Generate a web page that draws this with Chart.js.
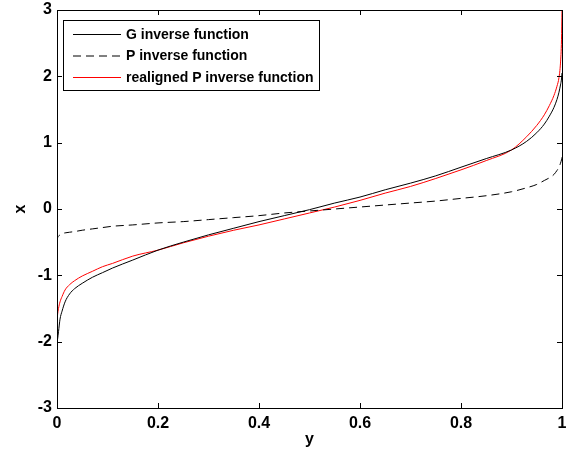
<!DOCTYPE html>
<html>
<head>
<meta charset="utf-8">
<script src="https://cdn.jsdelivr.net/npm/chart.js@4/dist/chart.umd.min.js"></script>
<style>
  body { margin: 0; background: #fff; }
  canvas { display: block; }
</style>
</head>
<body>
<canvas id="chart" width="566" height="453"></canvas>
<script>
// sample positions along y (horizontal axis)
const xs = [0, 0.001, 0.003, 0.006, 0.01, 0.016, 0.025, 0.035, 0.05, 0.07, 0.09, 0.11, 0.15, 0.2, 0.25, 0.3, 0.35, 0.4, 0.45, 0.5,
    0.55, 0.6, 0.65, 0.7, 0.75, 0.8, 0.85, 0.9, 0.93, 0.95, 0.965, 0.975, 0.984, 0.99, 0.994, 0.997, 0.999, 1];

// values
const gInverse = [-2.02, -1.97, -1.85, -1.66, -1.54, -1.40, -1.28, -1.20, -1.12, -1.03, -0.96, -0.89, -0.77, -0.62, -0.50, -0.39, -0.29, -0.19, -0.10, -0.01,
    0.09, 0.18, 0.29, 0.39, 0.50, 0.63, 0.76, 0.89, 1.02, 1.15, 1.28, 1.40, 1.53, 1.65, 1.76, 1.87, 1.96, 2.05];
const pInverse = [-0.50, -0.44, -0.41, -0.39, -0.37, -0.36, -0.35, -0.34, -0.32, -0.30, -0.28, -0.26, -0.24, -0.21, -0.19, -0.16, -0.13, -0.10, -0.06, -0.03,
    0.00, 0.03, 0.06, 0.09, 0.12, 0.16, 0.20, 0.26, 0.32, 0.37, 0.43, 0.47, 0.52, 0.58, 0.63, 0.69, 0.74, 0.78];
const realigned = [-1.68, -1.60, -1.50, -1.40, -1.32, -1.22, -1.14, -1.08, -1.01, -0.94, -0.87, -0.82, -0.71, -0.62, -0.51, -0.41, -0.32, -0.24, -0.15, -0.06,
    0.03, 0.13, 0.24, 0.34, 0.46, 0.59, 0.73, 0.89, 1.09, 1.26, 1.42, 1.56, 1.71, 1.85, 1.98, 2.20, 2.55, 3.0];

const seriesNames = ['G inverse function', 'P inverse function', 'realigned P inverse function'];
const xTicks = [0, 0.2, 0.4, 0.6, 0.8, 1];
const yTicks = [-3, -2, -1, 0, 1, 2, 3];

const FONT = "'Liberation Sans', Arial, Helvetica, sans-serif";

function toPoints(vals) {
    return xs.map((x, i) => ({ x: x, y: vals[i] }));
}

// frame + inward ticks on all four sides (matlab style box)
const boxPlugin = {
    id: 'box',
    afterDatasetsDraw(chart) {
        const { ctx, chartArea: a, scales } = chart;
        ctx.save();
        ctx.strokeStyle = '#000';
        ctx.lineWidth = 1;
        ctx.beginPath();
        xTicks.forEach(t => {
            const px = Math.round(scales.x.getPixelForValue(t)) + 0.5;
            ctx.moveTo(px, a.bottom); ctx.lineTo(px, a.bottom - 5);
            ctx.moveTo(px, a.top); ctx.lineTo(px, a.top + 5);
        });
        yTicks.forEach(t => {
            const py = Math.round(scales.y.getPixelForValue(t)) + 0.5;
            ctx.moveTo(a.left, py); ctx.lineTo(a.left + 5, py);
            ctx.moveTo(a.right, py); ctx.lineTo(a.right - 5, py);
        });
        ctx.stroke();
        ctx.strokeRect(Math.round(a.left) + 0.5, Math.round(a.top) + 0.5,
            Math.round(a.right - a.left), Math.round(a.bottom - a.top));
        ctx.restore();
    }
};

// legend box in the upper left corner
const legendPlugin = {
    id: 'boxLegend',
    afterDraw(chart) {
        const { ctx } = chart;
        const bx = 63.5, by = 20.5, bw = 256, bh = 70;
        ctx.save();
        ctx.fillStyle = '#fff';
        ctx.fillRect(bx, by, bw, bh);
        ctx.strokeStyle = '#000';
        ctx.lineWidth = 1;
        ctx.strokeRect(bx, by, bw, bh);
        ctx.font = 'bold 14px ' + FONT;
        ctx.textBaseline = 'middle';
        const rows = [34, 55.5, 77];
        chart.data.datasets.forEach((ds, i) => {
            const y = rows[i] + 0.5;
            ctx.strokeStyle = ds.borderColor;
            ctx.setLineDash(ds.borderDash || []);
            ctx.beginPath();
            ctx.moveTo(73, y);
            ctx.lineTo(121, y);
            ctx.stroke();
            ctx.setLineDash([]);
            ctx.fillStyle = '#000';
            ctx.fillText(ds.label, 126, rows[i] + 1);
        });
        ctx.restore();
    }
};

const ctx = document.getElementById('chart').getContext('2d');
new Chart(ctx, {
    type: 'line',
    data: {
        datasets: [{
            label: seriesNames[0],
            data: toPoints(gInverse),
            borderColor: '#000',
            borderWidth: 1,
            pointRadius: 0,
            cubicInterpolationMode: 'monotone'
        }, {
            label: seriesNames[1],
            data: toPoints(pInverse),
            borderColor: '#000',
            borderWidth: 1,
            borderDash: [8, 5],
            pointRadius: 0,
            cubicInterpolationMode: 'monotone'
        }, {
            label: seriesNames[2],
            data: toPoints(realigned),
            borderColor: '#ff0000',
            borderWidth: 1,
            pointRadius: 0,
            cubicInterpolationMode: 'monotone'
        }]
    },
    options: {
        responsive: false,
        animation: false,
        layout: { padding: { left: 0, right: 4, top: 10, bottom: 0 } },
        plugins: {
            legend: { display: false },
            tooltip: { enabled: false }
        },
        scales: {
            x: {
                type: 'linear',
                min: 0,
                max: 1,
                afterFit: s => { s.height = 45; s.paddingLeft = 0; s.paddingRight = 0; },
                afterBuildTicks: s => { s.ticks = xTicks.map(v => ({ value: v })); },
                grid: { display: false, drawTicks: false },
                border: { display: false },
                ticks: {
                    padding: 6,
                    color: '#000',
                    font: { family: FONT, size: 16, weight: 'bold' },
                    maxRotation: 0,
                    callback: v => String(v)
                },
                title: {
                    display: true,
                    text: 'y',
                    color: '#000',
                    font: { family: FONT, size: 16, weight: 'bold' },
                    padding: { top: 0, bottom: 4 }
                }
            },
            y: {
                min: -3,
                max: 3,
                afterFit: s => { s.width = 57; s.paddingTop = 0; s.paddingBottom = 0; },
                afterBuildTicks: s => { s.ticks = yTicks.map(v => ({ value: v })); },
                grid: { display: false, drawTicks: false },
                border: { display: false },
                ticks: {
                    padding: 5,
                    color: '#000',
                    font: { family: FONT, size: 16, weight: 'bold' }
                },
                title: {
                    display: true,
                    text: 'x',
                    color: '#000',
                    font: { family: FONT, size: 16, weight: 'bold' },
                    padding: { top: 11, bottom: 0 }
                }
            }
        }
    },
    plugins: [boxPlugin, legendPlugin]
});
</script>
</body>
</html>
